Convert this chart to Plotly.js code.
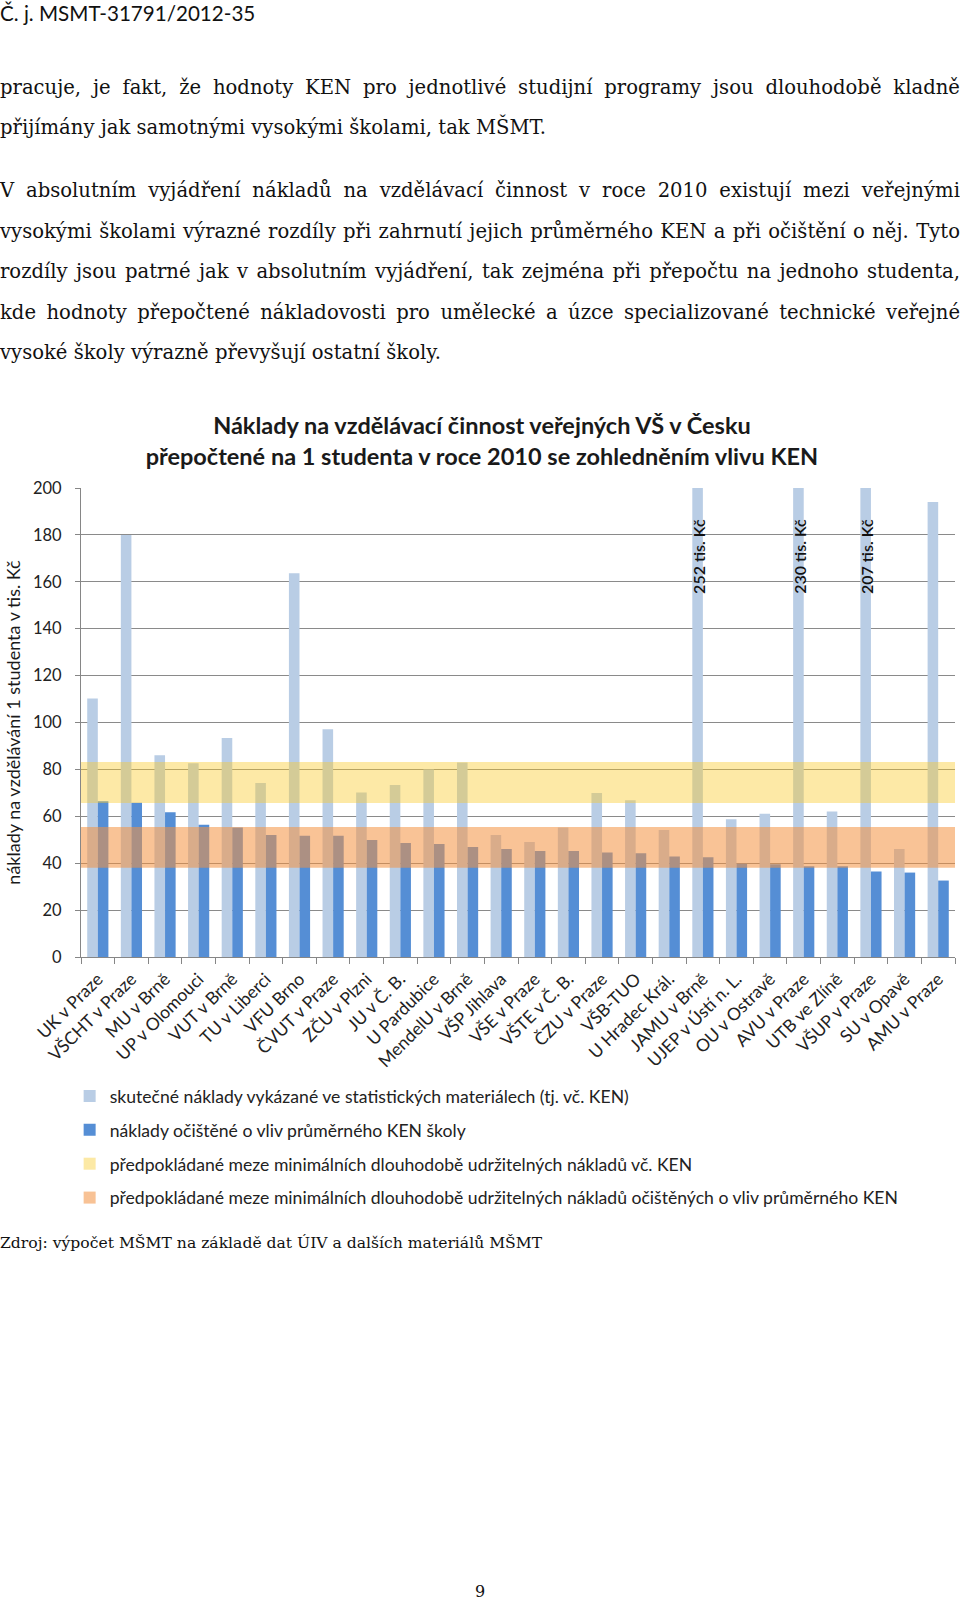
<!DOCTYPE html>
<html>
<head>
<meta charset="utf-8">
<script src="https://cdn.plot.ly/plotly-3.0.1.min.js"></script>
<style>
  html, body { margin: 0; padding: 0; background: #fff; }
  body { width: 960px; height: 1599px; position: relative; overflow: hidden; }
  #chart { position: absolute; left: 0; top: 0; width: 960px; height: 1599px; }
  .txt { position: absolute; left: 0; width: 960px; color: #111; white-space: nowrap; }
  .hdr { font-family: "Lato", sans-serif; font-size: 20.6px; line-height: 24px; }
  .ln { font-family: "DejaVu Serif", serif; font-size: 19.6px; line-height: 24px; }
  .ln.just { display: flex; justify-content: space-between; }
  .src { font-family: "DejaVu Serif", serif; font-size: 15.6px; line-height: 20px; }
  .pg { font-family: "DejaVu Serif", serif; font-size: 16px; line-height: 20px; text-align: center; }
</style>
</head>
<body>
<div id="chart"></div>

<div class="txt hdr" style="top:1px;">Č. j. MSMT-31791/2012-35</div>

<div class="txt ln just" style="top:76px;">pracuje, je fakt, že hodnoty KEN pro jednotlivé studijní programy jsou dlouhodobě kladně</div>
<div class="txt ln" style="top:116px;">přijímány jak samotnými vysokými školami, tak MŠMT.</div>

<div class="txt ln just" style="top:179px;">V absolutním vyjádření nákladů na vzdělávací činnost v roce 2010 existují mezi veřejnými</div>
<div class="txt ln just" style="top:220px;">vysokými školami výrazné rozdíly při zahrnutí jejich průměrného KEN a při očištění o něj. Tyto</div>
<div class="txt ln just" style="top:260px;">rozdíly jsou patrné jak v absolutním vyjádření, tak zejména při přepočtu na jednoho studenta,</div>
<div class="txt ln just" style="top:301px;">kde hodnoty přepočtené nákladovosti pro umělecké a úzce specializované technické veřejné</div>
<div class="txt ln" style="top:341px;">vysoké školy výrazně převyšují ostatní školy.</div>

<div class="txt src" style="top:1233px;">Zdroj: výpočet MŠMT na základě dat ÚIV a dalších materiálů MŠMT</div>
<div class="txt pg" style="top:1582px;">9</div>

<script>
// justify each full line by spreading its words across the line width
document.querySelectorAll('.ln.just').forEach(el => {
  const words = el.textContent.trim().split(/\s+/);
  el.textContent = '';
  words.forEach(w => { const s = document.createElement('span'); s.textContent = w; el.appendChild(s); });
});

// ---- data ----
const schools = ['UK v Praze','VŠCHT v Praze','MU v Brně','UP v Olomouci','VUT v Brně','TU v Liberci','VFU Brno','ČVUT v Praze','ZČU v Plzni','JU v Č. B.','U Pardubice','MendelU v Brně','VŠP Jihlava','VŠE v Praze','VŠTE v Č. B.','ČZU v Praze','VŠB-TUO','U Hradec Král.','JAMU v Brně','UJEP v Ústí n. L.','OU v Ostravě','AVU v Praze','UTB ve Zlíně','VŠUP v Praze','SU v Opavě','AMU v Praze'];
const actualCost = [110.2, 180, 86.0, 82.6, 93.4, 74.2, 163.6, 97.1, 70.2, 73.3, 80.0, 82.9, 52.0, 49.0, 55.2, 69.9, 66.8, 54.2, 252, 58.7, 61.1, 230, 62.1, 207, 46.1, 194];
const adjustedCost = [66.4, 65.8, 61.7, 56.4, 55.2, 52.0, 51.7, 51.7, 49.9, 48.6, 48.2, 46.9, 46.1, 45.2, 45.2, 44.6, 44.2, 42.9, 42.5, 39.8, 39.5, 38.7, 38.7, 36.5, 36.0, 32.6];
const bandWithKEN = [65.7, 83.2];
const bandAdjusted = [38.1, 55.4];
const yTicks = [0, 20, 40, 60, 80, 100, 120, 140, 160, 180, 200];
const seriesNames = [
  'skutečné náklady vykázané ve statistických materiálech (tj. vč. KEN)',
  'náklady očištěné o vliv průměrného KEN školy',
  'předpokládané meze minimálních dlouhodobě udržitelných nákladů vč. KEN',
  'předpokládané meze minimálních dlouhodobě udržitelných nákladů očištěných o vliv průměrného KEN'
];
const offScaleLabelY = 171;

// ---- chart ----
const yMax = yTicks[yTicks.length - 1];
const txtColor = '#222';
const axisGray = '#868686';

const traces = [
  { type: 'bar', x: schools, y: actualCost, name: seriesNames[0], legendgroup: 'a',
    marker: { color: '#B9CDE5' }, hoverinfo: 'x+y' },
  { type: 'bar', x: schools, y: adjustedCost, name: seriesNames[1], legendgroup: 'b',
    marker: { color: '#558ED5' }, hoverinfo: 'x+y' }
];

const annotations = [];
actualCost.forEach((v, i) => {
  if (v > yMax) {
    annotations.push({
      x: schools[i], y: offScaleLabelY, xref: 'x', yref: 'y',
      text: v + ' tis. Kč', textangle: -90, showarrow: false, xshift: -5,
      font: { family: 'Lato, sans-serif', size: 16, color: '#111', weight: 600 }
    });
  }
});

const layout = {
  width: 960, height: 1599,
  paper_bgcolor: 'rgba(0,0,0,0)', plot_bgcolor: '#fff',
  margin: { l: 81, r: 5, t: 488, b: 642, pad: 0 },
  font: { family: 'Lato, sans-serif', color: txtColor, size: 17 },
  title: {
    text: '<b>Náklady na vzdělávací činnost veřejných VŠ v Česku<br>přepočtené na 1 studenta v roce 2010 se zohledněním vlivu KEN</b>',
    font: { family: 'Lato, sans-serif', size: 23.5, color: '#1a1a1a' },
    x: 0.502, xref: 'container', xanchor: 'center',
    y: 1 - 434 / 1599, yref: 'container', yanchor: 'middle'
  },
  barmode: 'group', bargap: 0.37, bargroupgap: 0,
  showlegend: true,
  legend: {
    orientation: 'v', x: -0.013, xanchor: 'left', y: -0.258, yanchor: 'top',
    font: { family: 'Lato, sans-serif', size: 17.6, color: txtColor },
    tracegroupgap: 8, bgcolor: 'rgba(0,0,0,0)'
  },
  xaxis: {
    type: 'category', tickson: 'boundaries', ticks: 'outside', ticklen: 6,
    tickcolor: axisGray, showline: true, linecolor: axisGray, linewidth: 1,
    tickangle: -45, tickfont: { family: 'Lato, sans-serif', size: 17.5, color: txtColor },
    ticklabelstandoff: 4,
    showgrid: false, automargin: false, fixedrange: true
  },
  yaxis: {
    range: [0, yMax], tickvals: yTicks, ticks: 'outside', ticklen: 5,
    tickcolor: axisGray, showline: true, linecolor: axisGray, linewidth: 1,
    gridcolor: '#8a8a8a', gridwidth: 1, zeroline: false,
    tickfont: { family: 'Lato, sans-serif', size: 16.5, color: txtColor },
    ticklabelstandoff: 10,
    title: { text: 'náklady na vzdělávání 1 studenta v tis. Kč', standoff: 7,
      font: { family: 'Lato, sans-serif', size: 18, color: '#1a1a1a' } },
    automargin: false, fixedrange: true
  },
  shapes: [
    { type: 'rect', xref: 'paper', x0: 0, x1: 1, yref: 'y', y0: bandWithKEN[0], y1: bandWithKEN[1],
      fillcolor: 'rgb(250,202,40)', opacity: 0.41, line: { width: 0 }, layer: 'above',
      showlegend: true, name: seriesNames[2], legendgroup: 'c' },
    { type: 'rect', xref: 'paper', x0: 0, x1: 1, yref: 'y', y0: bandAdjusted[0], y1: bandAdjusted[1],
      fillcolor: 'rgb(244,146,64)', opacity: 0.55, line: { width: 0 }, layer: 'above',
      showlegend: true, name: seriesNames[3], legendgroup: 'd' }
  ],
  annotations: annotations
};

Plotly.newPlot('chart', traces, layout, { displayModeBar: false, staticPlot: true });
</script>
</body>
</html>
